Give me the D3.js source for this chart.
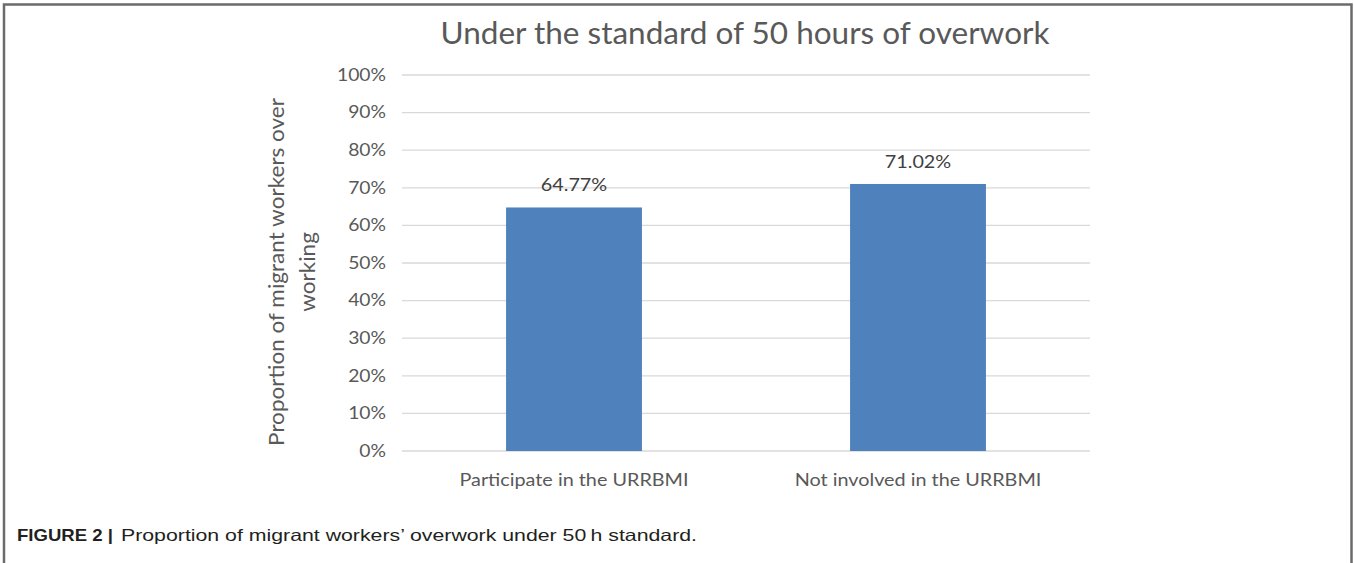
<!DOCTYPE html>
<html>
<head>
<meta charset="utf-8">
<script src="https://cdn.jsdelivr.net/npm/d3@7"></script>
<style>
  html, body { margin: 0; padding: 0; background: #fff; }
  svg { display: block; }
</style>
</head>
<body>
<svg id="chart" width="1354" height="563"></svg>
<script>
// Dados
const categories = ["Participate in the URRBMI", "Not involved in the URRBMI"];
const values = [0.6477, 0.7102];
const valueLabels = ["64.77%", "71.02%"];
const yTicks = [0, 0.1, 0.2, 0.3, 0.4, 0.5, 0.6, 0.7, 0.8, 0.9, 1.0];

const width = 1354, height = 563;
const margin = {top: 75, right: 264, bottom: 112, left: 402};
const chartFont = "Lato, 'Open Sans', sans-serif";
const textColor = "#595959";

const svg = d3.select("#chart");

// A figura original está esticada na horizontal: alarga o texto
function stretch(sel, factor) {
    sel.each(function() {
        const w = this.getComputedTextLength();
        d3.select(this)
            .attr("textLength", w * factor)
            .attr("lengthAdjust", "spacingAndGlyphs");
    });
}

// Moldura da figura
svg.append("path")
    .attr("d", `M4,${height + 5} V4.5 H1351.5 V${height + 5}`)
    .attr("fill", "none")
    .attr("stroke", "#6b6b6b")
    .attr("stroke-width", 2.5);

// Escalas
const x = d3.scaleBand()
    .domain(categories)
    .range([margin.left, width - margin.right])
    .paddingInner(0.605)
    .paddingOuter(0.3025);

const y = d3.scaleLinear()
    .domain([0, 1])
    .range([height - margin.bottom, margin.top]);

// Linhas de grade
svg.append("g")
    .selectAll("line")
    .data(yTicks)
    .join("line")
    .attr("x1", margin.left)
    .attr("x2", width - margin.right)
    .attr("y1", d => y(d))
    .attr("y2", d => y(d))
    .attr("stroke", "#d9d9d9")
    .attr("stroke-width", 1.3);

// Eixo Y (só os rótulos)
const yAxis = svg.append("g")
    .attr("transform", `translate(${margin.left - 16},0)`)
    .call(d3.axisLeft(y).tickValues(yTicks).tickFormat(d3.format(".0%")).tickSize(0).tickPadding(0));
yAxis.select(".domain").remove();
yAxis.selectAll("text")
    .attr("font-family", chartFont)
    .attr("font-size", 16.5)
    .attr("fill", textColor)
    .call(stretch, 1.17);

// Barras
svg.append("g")
    .selectAll("rect")
    .data(values)
    .join("rect")
    .attr("x", (d, i) => x(categories[i]))
    .attr("y", d => y(d))
    .attr("width", x.bandwidth())
    .attr("height", d => y(0) - y(d))
    .attr("fill", "#4f81bd");

// Rótulos dos valores
svg.append("g")
    .selectAll("text")
    .data(values)
    .join("text")
    .attr("x", (d, i) => x(categories[i]) + x.bandwidth() / 2)
    .attr("y", d => y(d) - 16)
    .attr("text-anchor", "middle")
    .attr("font-family", chartFont)
    .attr("font-size", 16.5)
    .attr("fill", "#404040")
    .text((d, i) => valueLabels[i])
    .call(stretch, 1.2);

// Eixo X (categorias)
const xAxis = svg.append("g")
    .attr("transform", `translate(0,${height - margin.bottom})`)
    .call(d3.axisBottom(x).tickSize(0).tickPadding(0));
xAxis.select(".domain").remove();
xAxis.selectAll("text")
    .attr("dy", null)
    .attr("y", 35)
    .attr("font-family", chartFont)
    .attr("font-size", 16.5)
    .attr("fill", textColor)
    .call(stretch, 1.2);

// Título
svg.append("text")
    .attr("x", 745)
    .attr("y", 44)
    .attr("text-anchor", "middle")
    .attr("font-family", chartFont)
    .attr("font-size", 30)
    .attr("fill", textColor)
    .text("Under the standard of 50 hours of overwork")
    .call(stretch, 1.05);

// Título do eixo Y (duas linhas)
const yLabelLines = ["Proportion of migrant workers over", "working"];
svg.append("g")
    .attr("transform", "translate(284,272) rotate(-90)")
    .selectAll("text")
    .data(yLabelLines)
    .join("text")
    .attr("x", 0)
    .attr("y", (d, i) => i * 31)
    .attr("text-anchor", "middle")
    .attr("font-family", chartFont)
    .attr("font-size", 20.5)
    .attr("fill", textColor)
    .text(d => d)
    .call(stretch, 1.1);

// Legenda da figura
const captionFont = "'Liberation Sans', Arial, sans-serif";
svg.append("text")
    .attr("x", 17)
    .attr("y", 541)
    .attr("font-family", captionFont)
    .attr("font-size", 16.5)
    .attr("font-weight", "bold")
    .attr("fill", "#231f20")
    .attr("textLength", 96)
    .attr("lengthAdjust", "spacingAndGlyphs")
    .text("FIGURE 2 |");
svg.append("text")
    .attr("x", 121)
    .attr("y", 541)
    .attr("font-family", captionFont)
    .attr("font-size", 16.5)
    .attr("fill", "#231f20")
    .attr("textLength", 576)
    .attr("lengthAdjust", "spacingAndGlyphs")
    .text("Proportion of migrant workers\u2019 overwork under 50\u2009h standard.");
</script>
</body>
</html>
